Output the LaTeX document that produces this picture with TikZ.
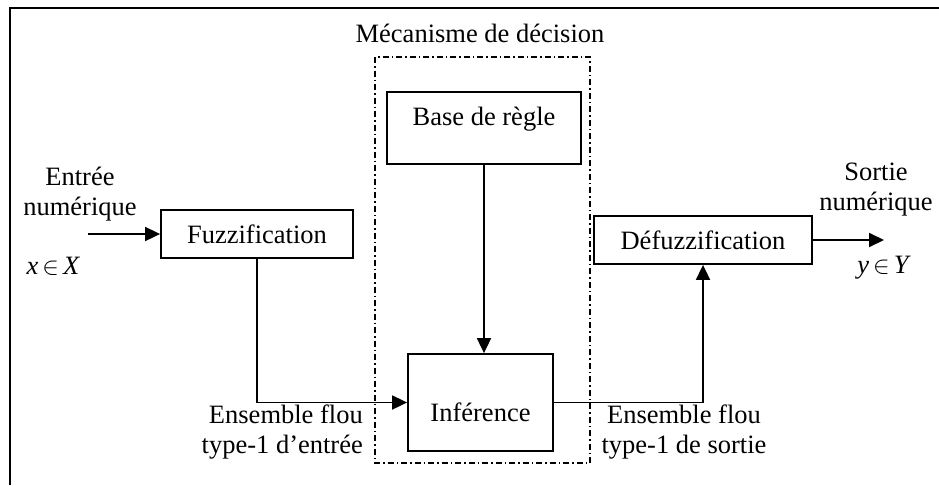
\documentclass[tikz,border=0pt]{standalone}
\usepackage{fontspec}
\setmainfont{Liberation Serif}
\usetikzlibrary{arrows.meta}
\begin{document}
\begin{tikzpicture}[x=1pt,y=-1pt,
  every node/.style={font=\fontsize{26.5}{30}\selectfont, inner sep=0pt},
  box/.style={draw, line width=1.8pt, inner sep=0pt},
  lbl/.style={align=center},
  conn/.style={line width=1.8pt, -{Triangle[length=15pt,width=14pt]}},
  dashdot/.style={line width=1.5pt, dash pattern=on 6pt off 3pt on 1.5pt off 3pt}
]
\useasboundingbox (0,0) rectangle (939,485);
% outer frame (left and top edges)
\draw[line width=2pt] (10,485) -- (10,8) -- (939,8);
% decision mechanism box
\draw[dashdot] (375,57) rectangle (590,463);
\node[lbl] (mec) at (480,33) {Mécanisme de décision};
% blocks
\node[box, minimum width=192pt, minimum height=48pt] (fuzz) at (257,234) {Fuzzification};
\node[box, minimum width=218pt, minimum height=48pt] (defuzz) at (703,240) {Défuzzification};
\node[box, minimum width=194pt, minimum height=72pt] (base) at (484,128) {};
\node (basetxt) at (484,119) {Base de règle};
\node[box, minimum width=145pt, minimum height=97pt] (inf) at (480.5,402.5) {};
\node (inftxt) at (480.5,412) {Inférence};
% labels
\node[lbl] (entree) at (80,194) {Entrée\\numérique};
\node (xX) at (53,266) {{\itshape x}$\,\in\,${\itshape X}};
\node[lbl] (sortie) at (876,190) {Sortie\\numérique};
\node (yY) at (883,268) {{\itshape y}$\,\in\,${\itshape Y}};
\node[align=right, anchor=east] (ens1) at (363,432.5) {Ensemble flou\\type-1 d’entrée};
\node[lbl] (ens2) at (684,432.5) {Ensemble flou\\type-1 de sortie};
% connectors
\coordinate (in) at (88,234);
\coordinate (out) at (884,240);
\draw[conn] (in) -- (fuzz.west);
\draw[conn] (defuzz.east) -- (out);
\draw[conn] (base.south) -- (base.south |- inf.north);
\draw[conn] (fuzz.south) |- (inf.west);
\draw[conn] (inf.east) -| (defuzz.south);
\end{tikzpicture}
\end{document}
